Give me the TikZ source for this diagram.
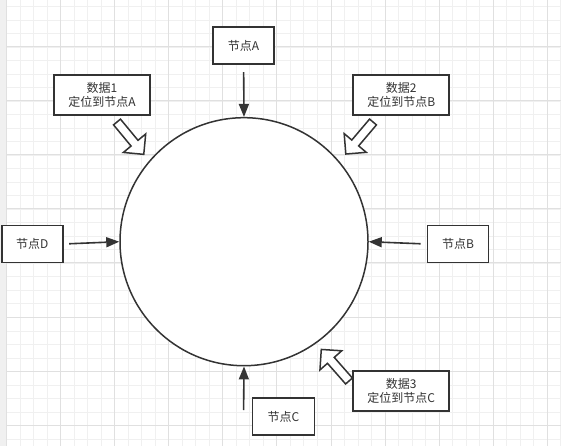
\documentclass[tikz,border=0pt]{standalone}
\usepackage{fontspec}
\setmainfont{Noto Sans CJK SC}
\usetikzlibrary{arrows.meta}
\definecolor{ink}{HTML}{333333}
\definecolor{gridminor}{HTML}{F0F0F0}
\definecolor{gridmajor}{HTML}{E0E0E0}
\begin{document}
\begin{tikzpicture}[x=1pt,y=-1pt,
  nodebox/.style={draw=ink,line width=1.9pt,fill=white,minimum width=61pt,minimum height=37pt,
    text=ink,font=\fontsize{12}{14}\selectfont,inner sep=0pt,align=center},
  databox/.style={nodebox,minimum width=96pt,minimum height=40pt},
  conn/.style={draw=ink,line width=1.6pt,-{Triangle[length=13pt,width=10pt]}},
  blockarrow/.style={draw=ink,line width=1.5pt,fill=white,line join=miter},
  minorline/.style={draw=gridminor,line width=0.9pt},
  majorline/.style={draw=gridmajor,line width=0.9pt}]
\useasboundingbox (0,0) rectangle (561,446);
\fill[white] (0,0) rectangle (561,446);
\fill[gridminor] (0,0) rectangle (6,446);
% grid
\foreach \i in {0,...,41} \draw[minorline] (6.5+\i*13.52,0) -- (6.5+\i*13.52,446);
\foreach \i in {0,...,32} \draw[minorline] (6,6.5+\i*13.52) -- (561,6.5+\i*13.52);
\foreach \i in {0,...,10} \draw[majorline] (6.5+\i*54.08,0) -- (6.5+\i*54.08,446);
\foreach \i in {1,...,8} \draw[majorline] (6,-7.5+\i*54.08) -- (561,-7.5+\i*54.08);
% ring
\node[circle,draw=ink,line width=1.5pt,fill=white,minimum size=248pt,inner sep=0pt] (ring) at (244,241.7) {};
% node boxes
\node[nodebox] (nA) at (243.6,45.6) {节点A};
\node[nodebox] (nD) at (32.2,244) {节点D};
\node[nodebox] (nB) at (458,244) {节点B};
\node[nodebox,minimum width=62pt] (nC) at (283.5,416.7) {节点C};
\node[databox] (d1) at (102,95.3) {数据1\\定位到节点A};
\node[databox] (d2) at (401.3,95.3) {数据2\\定位到节点B};
\node[databox] (d3) at (401.3,390.7) {数据3\\定位到节点C};
% connectors
\coordinate (cS) at (243.6,410);
\draw[conn,shorten <=7pt] (nA.south) -- (ring.north);
\draw[conn,shorten <=5.5pt] (nD.east) -- (ring.west);
\draw[conn,shorten <=6pt] (nB.west) -- (ring.east);
\draw[conn] (cS) -- (ring.south);
% block arrows
\foreach \px/\py/\ang in {117/122/-50.4, 373/122/-130.3, 349/381/131.3}
  \draw[blockarrow,shift={(\px,\py)},rotate=\ang]
    (0,-4.5) -- (27.5,-4.5) -- (27.5,-14.5) -- (42,0) -- (27.5,14.5) -- (27.5,4.5) -- (0,4.5) -- cycle;
\end{tikzpicture}
\end{document}
